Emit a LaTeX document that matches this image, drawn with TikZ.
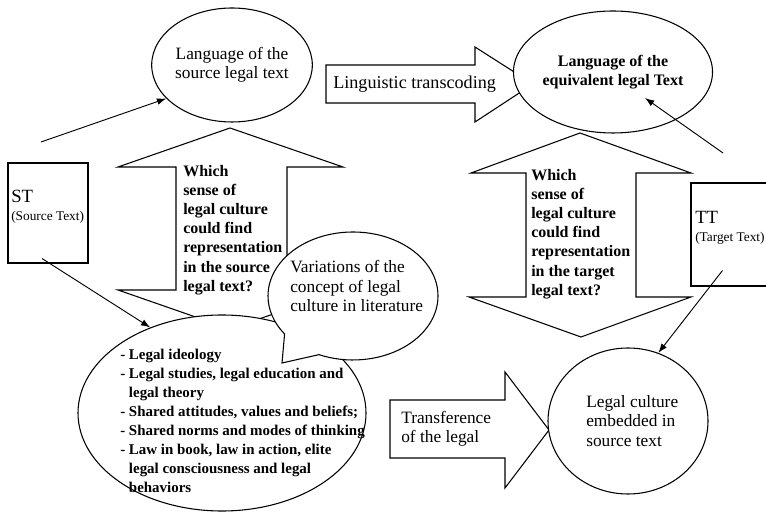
\documentclass[tikz,border=0pt]{standalone}
\usepackage{fontspec}
\setmainfont{Liberation Serif}
\usetikzlibrary{arrows.meta,positioning,calc,shapes.geometric,shapes.callouts}

\begin{document}
\begin{tikzpicture}[x=0.75pt,y=0.75pt,font=\fontsize{13}{14.6}\selectfont,
   bubble/.style={ellipse,draw,fill=white,line width=0.8pt,inner sep=0pt},
   tbox/.style={rectangle,draw,fill=white,line width=0.8pt},
   blk/.style={draw,fill=white,line width=0.8pt,line join=miter},
   txt/.style={anchor=west,align=left,inner sep=0pt},
   ar/.style={-{Latex[length=7pt,width=5pt]},line width=0.7pt}]

  \useasboundingbox (0,0) rectangle (766,513);
  \clip (0,0) rectangle (766,513);

  % block arrows
  \draw[blk] (230,385) -- (343,346) -- (287,346) -- (287,223) -- (343,223)
    -- (230,184) -- (118,223) -- (176,223) -- (176,346) -- (118,346) -- cycle;
  \draw[blk] (580,380) -- (691,340) -- (636,340) -- (636,216) -- (691,216)
    -- (581,176) -- (469,216) -- (526,216) -- (526,340) -- (471,340) -- cycle;
  \draw[blk] (326,448) -- (475,448) -- (475,466) -- (533,429) -- (475,391)
    -- (475,410) -- (326,410) -- cycle;
  \draw[blk] (390,113) -- (505,113) -- (505,141) -- (549,83) -- (505,25)
    -- (505,55) -- (390,55) -- cycle;

  \node[txt,font=\fontsize{12}{14.4}\selectfont\bfseries] (qsrc) at (183,283)
    {Which\\sense of\\legal culture\\could find\\representation\\in the source\\legal text?};
  \node[txt,font=\fontsize{12}{14.4}\selectfont\bfseries] (qtgt) at (531,279)
    {Which\\sense of\\legal culture\\could find\\representation\\in the target\\legal text?};
  \node[txt,font=\fontsize{13.6}{15}\selectfont] (lingt) at (333,429) {Linguistic transcoding};
  \node[txt] (transt) at (401,84) {Transference\\of the legal};

  % ellipses and boxes
  \node[bubble,minimum width=120pt,minimum height=85.5pt,align=center] (srclang) at (232,448)
    {Language of the\\source legal text};
  \node[bubble,minimum width=120pt,minimum height=91.5pt,align=center,
    font=\fontsize{12}{14.4}\selectfont\bfseries] (eqlang) at (613,441)
    {Language of the\\equivalent legal Text};

  \node[tbox,minimum width=60pt,minimum height=75pt] (st) at (48,300) {};
  \node[txt] (stt) at (11,306) {{\fontsize{14}{14}\selectfont ST}\\[-1pt]{\fontsize{10}{12}\selectfont(Source Text)}};
  \node[tbox,minimum width=81.75pt,minimum height=77.25pt] (tt) at (745.5,278.5) {};
  \node[txt] (ttt) at (695,285) {{\fontsize{14}{14}\selectfont TT}\\[-1pt]{\fontsize{10}{12}\selectfont(Target Text)}};

  \node[bubble,minimum width=120pt,minimum height=109.5pt] (culture) at (628,92) {};
  \node[txt] (culturet) at (586,92) {Legal culture\\embedded in\\source text};

  \node[bubble,minimum width=216pt,minimum height=147pt] (ideas) at (222,100) {};
  \node[txt,font=\fontsize{11.2}{14.2}\selectfont\bfseries] (ideast) at (120,92)
    {- Legal ideology\\
     - Legal studies, legal education and\\
     \phantom{- }legal theory\\
     - Shared attitudes, values and beliefs;\\
     - Shared norms and modes of thinking\\
     - Law in book, law in action, elite\\
     \phantom{- }legal consciousness and legal\\
     \phantom{- }behaviors};

  \node[ellipse callout,draw,fill=white,line width=0.8pt,inner sep=0pt,
    minimum width=127.5pt,minimum height=96pt,
    callout absolute pointer={(282,150)},callout pointer arc=30] (varcon) at (353,217) {};
  \node[txt] (varcont) at (290,227) {Variations of the\\concept of legal\\culture in literature};

  % connectors
  \coordinate (stA) at (41,371);
  \coordinate (ttA) at (723,360);
  \draw[ar] (stA) -- (srclang.207);
  \draw[ar] ($(st.south)+(-6,5)$) -- (ideas.130);
  \draw[ar] (ttA) -- ($(eqlang.center)+(32,-26)$);
  \draw[ar] ($(tt.south west)+(32,16)$) -- (culture.66);
\end{tikzpicture}
\end{document}
